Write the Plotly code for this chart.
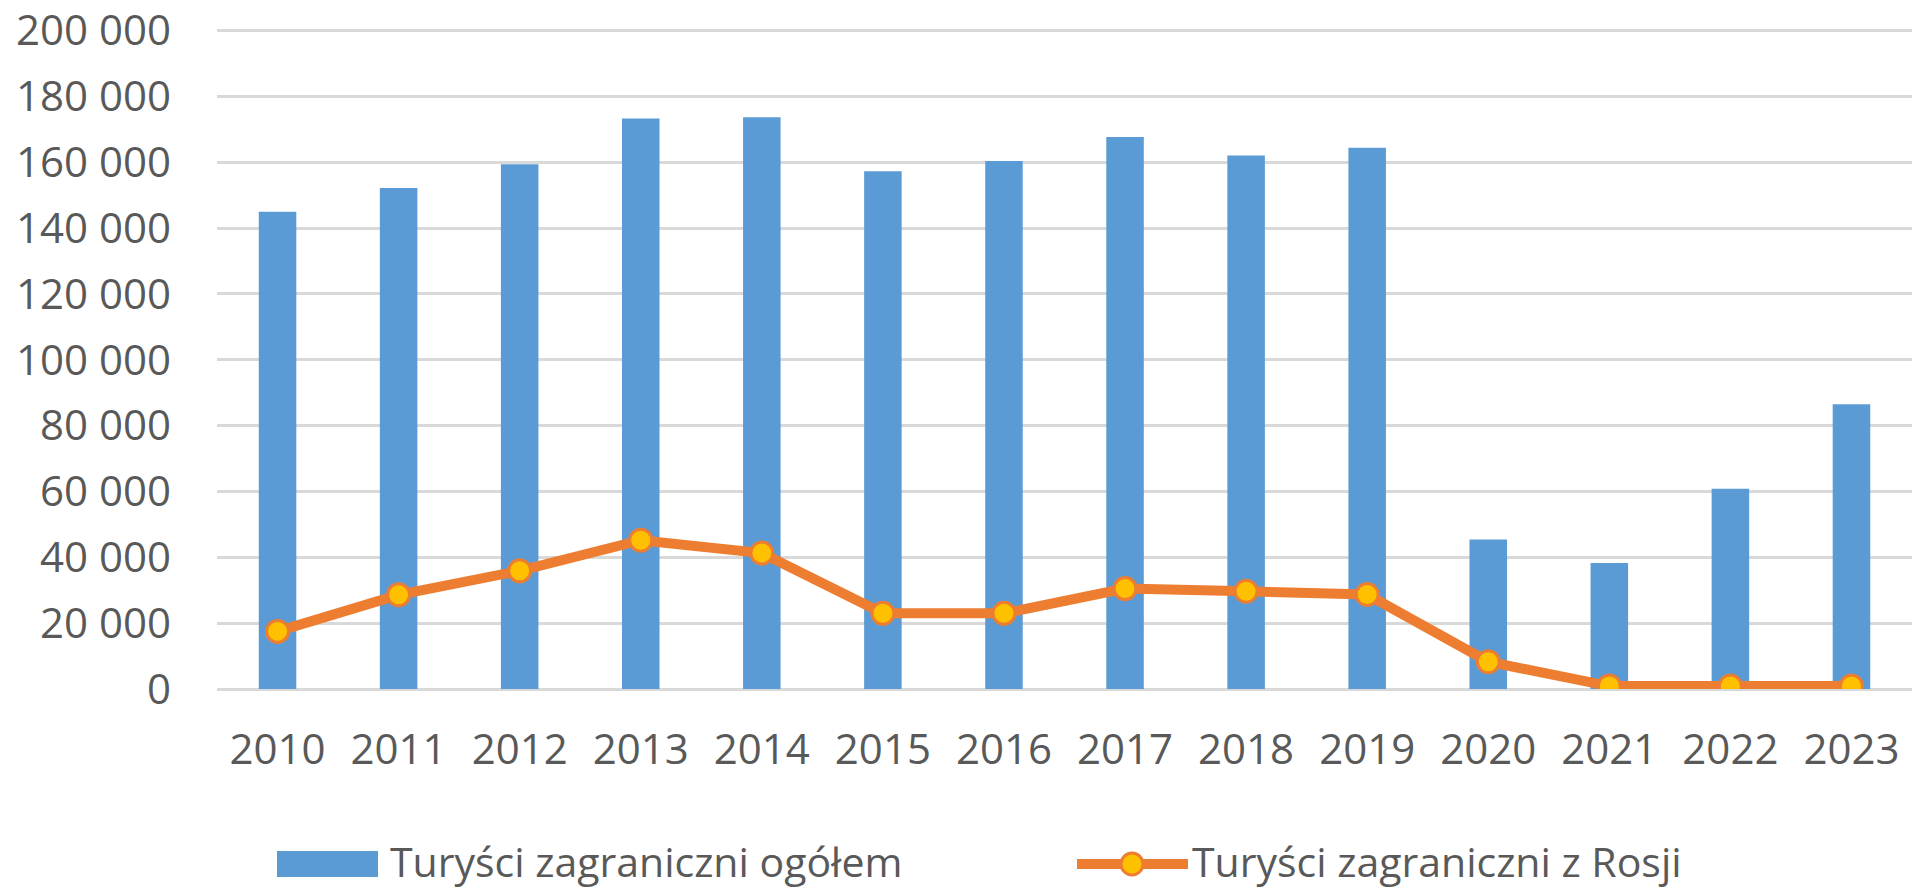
import plotly.graph_objects as go

years = ["2010", "2011", "2012", "2013", "2014", "2015", "2016",
         "2017", "2018", "2019", "2020", "2021", "2022", "2023"]
total_tourists = [145000, 152200, 159400, 173300, 173700, 157300, 160400,
                  167700, 162100, 164400, 45400, 38300, 60800, 86500]
russia_tourists = [17500, 28600, 35900, 45200, 41300, 23000, 23000,
                   30500, 29700, 28700, 8300, 900, 900, 900]
y_tickvals = [0, 20000, 40000, 60000, 80000, 100000, 120000, 140000, 160000, 180000, 200000]
y_ticktext = ["0", "20 000", "40 000", "60 000", "80 000", "100 000", "120 000",
              "140 000", "160 000", "180 000", "200 000"]
legend_names = ["Turyści zagraniczni ogółem", "Turyści zagraniczni z Rosji"]

W, H = 1913, 888
YTOP = 200500
ML, MR, MT, MB = 217, 1, 29, 199
PW = W - ML - MR
PH = H - MT - MB

BLUE = "#5B9BD5"
ORANGE = "#ED7D31"
GOLD = "#FFC000"
TXT = "#595959"
FONT = "Open Sans"


def px(X):
    return (X - ML) / PW


def py(Y):
    return (H - MB - Y) / PH


fig = go.Figure()
fig.add_trace(go.Bar(x=years, y=total_tourists, name=legend_names[0],
                     marker=dict(color=BLUE, line=dict(width=0)), width=0.31))
fig.add_trace(go.Scatter(x=years, y=russia_tourists, name=legend_names[1], mode="lines+markers",
                         line=dict(color=ORANGE, width=10),
                         marker=dict(symbol="circle", size=22, color=GOLD,
                                     line=dict(color=ORANGE, width=3))))

# custom legend
LY = 864
TY = 861
shapes = [
    dict(type="rect", xref="paper", yref="paper",
         x0=px(277), x1=px(378), y0=py(LY + 13), y1=py(LY - 13),
         fillcolor=BLUE, line=dict(width=0)),
    dict(type="line", xref="paper", yref="paper",
         x0=px(1077), x1=px(1188), y0=py(LY), y1=py(LY),
         line=dict(color=ORANGE, width=10)),
    dict(type="circle", xref="paper", yref="paper",
         x0=px(1132 - 11), x1=px(1132 + 11), y0=py(LY + 11), y1=py(LY - 11),
         fillcolor=GOLD, line=dict(color=ORANGE, width=3)),
]
annotations = [
    dict(text=legend_names[0], xref="paper", yref="paper", x=px(388), y=py(TY),
         xanchor="left", yanchor="middle", showarrow=False,
         font=dict(family=FONT, size=41, color=TXT)),
    dict(text=legend_names[1], xref="paper", yref="paper", x=px(1190), y=py(TY),
         xanchor="left", yanchor="middle", showarrow=False,
         font=dict(family=FONT, size=41, color=TXT)),
]

fig.update_layout(
    width=W, height=H,
    margin=dict(l=ML, r=MR, t=MT, b=MB, pad=0),
    paper_bgcolor="white", plot_bgcolor="white",
    showlegend=False,
    bargap=0.69,
    font=dict(family=FONT, size=42, color=TXT),
    shapes=shapes, annotations=annotations,
    xaxis=dict(type="category", range=[-0.5, len(years) - 0.5],
               showgrid=False, showline=False, ticks="",
               tickfont=dict(family=FONT, size=42, color=TXT),
               ticklabelstandoff=32, fixedrange=True),
    yaxis=dict(range=[0, YTOP], tickvals=y_tickvals, ticktext=y_ticktext,
               showgrid=True, gridcolor="#D9D9D9", gridwidth=3,
               zeroline=True, zerolinecolor="#D9D9D9", zerolinewidth=3,
               showline=False, ticks="", ticklabeloverflow="allow",
               tickfont=dict(family=FONT, size=42, color=TXT),
               ticklabelstandoff=45, fixedrange=True),
)

fig.write_html("out.html", config={"displayModeBar": False},
               post_script="document.body.style.margin='0';document.body.style.overflow='hidden';")
